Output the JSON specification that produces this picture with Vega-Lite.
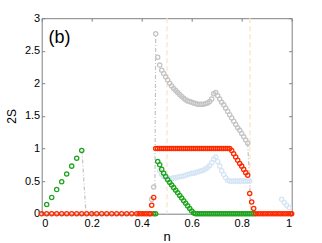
{
  "$schema": "https://vega.github.io/schema/vega-lite/v6.json",
  "width": 250,
  "height": 195.5,
  "autosize": "none",
  "padding": {"left": 41.7, "top": 18.2, "right": 30.3, "bottom": 29.3},
  "background": "white",
  "config": {
    "view": {"stroke": "#808080", "strokeWidth": 1},
    "axis": {
      "grid": false,
      "domain": false,
      "tickColor": "#808080",
      "tickSize": -3,
      "tickWidth": 1,
      "labelFont": "Liberation Sans",
      "labelFontSize": 11,
      "labelColor": "#000000",
      "titleFont": "Liberation Sans",
      "titleFontWeight": "normal",
      "titleColor": "#000000"
    }
  },
  "data": {
    "values": [
      {"n": 0.00, "r": 0},
      {"n": 0.02, "r": 0, "g": 0.14},
      {"n": 0.04, "r": 0, "g": 0.25},
      {"n": 0.06, "r": 0, "g": 0.37},
      {"n": 0.08, "r": 0, "g": 0.49},
      {"n": 0.10, "r": 0, "g": 0.61},
      {"n": 0.12, "r": 0, "g": 0.73},
      {"n": 0.14, "r": 0, "g": 0.85},
      {"n": 0.16, "r": 0, "g": 0.97},
      {"n": 0.18, "r": 0},
      {"n": 0.20, "r": 0},
      {"n": 0.22, "r": 0},
      {"n": 0.24, "r": 0},
      {"n": 0.26, "r": 0},
      {"n": 0.28, "r": 0},
      {"n": 0.30, "r": 0},
      {"n": 0.32, "r": 0},
      {"n": 0.34, "r": 0},
      {"n": 0.36, "r": 0},
      {"n": 0.38, "r": 0},
      {"n": 0.39, "r": 0},
      {"n": 0.40, "r": 0},
      {"n": 0.41, "r": 0},
      {"n": 0.42, "r": 0},
      {"n": 0.43, "r": 0},
      {"n": 0.436, "r": 0},
      {"n": 0.440, "r": 0.13, "k": 0.22},
      {"n": 0.448, "r": 0.25, "k": 0.41, "g": 0},
      {"n": 0.456, "r": 1, "k": 2.76, "g": 0},
      {"n": 0.464, "r": 1, "g": 0.80, "k": 2.40, "b": 0.80},
      {"n": 0.472, "r": 1, "g": 0.75, "k": 2.28, "b": 0.66},
      {"n": 0.480, "r": 1, "g": 0.68, "k": 2.20, "b": 0.60},
      {"n": 0.488, "r": 1, "g": 0.62, "k": 2.15, "b": 0.57},
      {"n": 0.496, "r": 1, "g": 0.57, "k": 2.10, "b": 0.55},
      {"n": 0.504, "r": 1, "g": 0.52, "k": 2.05, "b": 0.54},
      {"n": 0.512, "r": 1, "g": 0.48, "k": 2.00, "b": 0.54},
      {"n": 0.520, "r": 1, "g": 0.44, "k": 1.96, "b": 0.54},
      {"n": 0.528, "r": 1, "g": 0.40, "k": 1.92, "b": 0.55},
      {"n": 0.536, "r": 1, "g": 0.36, "k": 1.89, "b": 0.55},
      {"n": 0.544, "r": 1, "g": 0.32, "k": 1.86, "b": 0.56},
      {"n": 0.552, "r": 1, "g": 0.28, "k": 1.83, "b": 0.57},
      {"n": 0.560, "r": 1, "g": 0.24, "k": 1.80, "b": 0.57},
      {"n": 0.568, "r": 1, "g": 0.20, "k": 1.77, "b": 0.58},
      {"n": 0.576, "r": 1, "g": 0.16, "k": 1.75, "b": 0.59},
      {"n": 0.584, "r": 1, "g": 0.12, "k": 1.73, "b": 0.60},
      {"n": 0.592, "r": 1, "g": 0.08, "k": 1.72, "b": 0.61},
      {"n": 0.600, "r": 1, "g": 0.04, "k": 1.71, "b": 0.62},
      {"n": 0.608, "r": 1, "g": 0.01, "k": 1.70, "b": 0.62},
      {"n": 0.616, "r": 1, "g": 0, "k": 1.69, "b": 0.63},
      {"n": 0.624, "r": 1, "g": 0, "k": 1.68, "b": 0.64},
      {"n": 0.632, "r": 1, "g": 0, "k": 1.68, "b": 0.65},
      {"n": 0.640, "r": 1, "g": 0, "k": 1.68, "b": 0.66},
      {"n": 0.648, "r": 1, "g": 0, "k": 1.68, "b": 0.67},
      {"n": 0.656, "r": 1, "g": 0, "k": 1.69, "b": 0.69},
      {"n": 0.664, "r": 1, "g": 0, "k": 1.70, "b": 0.71},
      {"n": 0.672, "r": 1, "g": 0, "k": 1.72, "b": 0.74},
      {"n": 0.680, "r": 1, "g": 0, "k": 1.76, "b": 0.78},
      {"n": 0.688, "r": 1, "g": 0, "k": 1.84, "b": 0.84},
      {"n": 0.696, "r": 1, "g": 0, "k": 1.86, "b": 0.87},
      {"n": 0.704, "r": 1, "g": 0, "k": 1.81, "b": 0.80},
      {"n": 0.712, "r": 1, "g": 0, "k": 1.76, "b": 0.73},
      {"n": 0.720, "r": 1, "g": 0, "k": 1.71, "b": 0.66},
      {"n": 0.728, "r": 1, "g": 0, "k": 1.67, "b": 0.60},
      {"n": 0.736, "r": 1, "g": 0, "k": 1.62, "b": 0.55},
      {"n": 0.744, "r": 1, "g": 0, "k": 1.57, "b": 0.51},
      {"n": 0.752, "r": 1, "g": 0, "k": 1.52, "b": 0.50},
      {"n": 0.760, "r": 0.97, "g": 0, "k": 1.47, "b": 0.50},
      {"n": 0.768, "r": 0.92, "g": 0, "k": 1.42, "b": 0.50},
      {"n": 0.776, "r": 0.87, "g": 0, "k": 1.37, "b": 0.50},
      {"n": 0.784, "r": 0.82, "g": 0, "k": 1.32, "b": 0.50},
      {"n": 0.792, "r": 0.77, "g": 0, "k": 1.28, "b": 0.50},
      {"n": 0.800, "r": 0.73, "g": 0, "k": 1.23, "b": 0.50},
      {"n": 0.808, "r": 0.68, "g": 0, "k": 1.18, "b": 0.50},
      {"n": 0.816, "r": 0.63, "g": 0, "k": 1.13, "b": 0.50},
      {"n": 0.824, "r": 0.59, "g": 0, "k": 1.08, "b": 0.50},
      {"n": 0.832, "r": 0.31, "g": 0, "b": 0.50},
      {"n": 0.840, "r": 0.18, "g": 0},
      {"n": 0.848, "r": 0.08, "g": 0},
      {"n": 0.856, "r": 0},
      {"n": 0.866, "r": 0},
      {"n": 0.876, "r": 0},
      {"n": 0.886, "r": 0},
      {"n": 0.896, "r": 0},
      {"n": 0.906, "r": 0},
      {"n": 0.916, "r": 0},
      {"n": 0.926, "r": 0},
      {"n": 0.936, "r": 0},
      {"n": 0.946, "r": 0},
      {"n": 0.956, "r": 0},
      {"n": 0.96, "b": 0.22},
      {"n": 0.966, "r": 0},
      {"n": 0.97, "b": 0.17},
      {"n": 0.976, "r": 0},
      {"n": 0.98, "b": 0.13},
      {"n": 0.986, "r": 0},
      {"n": 0.99, "b": 0.09},
      {"n": 0.996, "r": 0},
      {"n": 1.0, "r": 0}
    ]
  },
  "layer": [
    {
      "data": {"values": [{"n": 0.501}, {"n": 0.833}]},
      "mark": {"type": "rule", "color": "#fde8cc", "strokeWidth": 1.5, "strokeDash": [5, 3]},
      "encoding": {
        "x": {"field": "n", "type": "quantitative", "scale": {"domain": [0, 1]}, "axis": null}
      }
    },
    {
      "data": {"values": [
        {"seg": 1, "n": 0.161, "y": 0.97}, {"seg": 1, "n": 0.177, "y": 0},
        {"seg": 2, "n": 0.456, "y": 2.76}, {"seg": 2, "n": 0.453, "y": 0.41},
        {"seg": 3, "n": 0.824, "y": 1.08}, {"seg": 3, "n": 0.837, "y": 0.05}
      ]},
      "mark": {"type": "line", "color": "#c4c4c4", "strokeWidth": 1.2, "strokeDash": [4, 2, 1, 2]},
      "encoding": {
        "x": {"field": "n", "type": "quantitative", "scale": {"domain": [0, 1]}, "axis": null},
        "y": {"field": "y", "type": "quantitative", "scale": {"domain": [0, 3]}, "axis": null},
        "detail": {"field": "seg"}
      }
    },
    {
      "transform": [{"filter": "isValid(datum.b)"}],
      "mark": {"type": "point", "shape": "circle", "filled": false, "size": 18, "strokeWidth": 1.3, "color": "#d6e5f5", "opacity": 1},
      "encoding": {
        "x": {"field": "n", "type": "quantitative", "scale": {"domain": [0, 1]},
          "axis": {"orient": "bottom", "values": [0, 0.2, 0.4, 0.6, 0.8, 1], "format": "~g", "labelPadding": 7, "title": "n", "titleFontSize": 13, "titlePadding": 2}},
        "y": {"field": "b", "type": "quantitative", "scale": {"domain": [0, 3]},
          "axis": {"orient": "left", "values": [0, 0.5, 1, 1.5, 2, 2.5, 3], "format": "~g", "labelPadding": 5, "title": "2S", "titleFontSize": 12, "titlePadding": 6}}
      }
    },
    {
      "transform": [{"filter": "isValid(datum.k)"}],
      "mark": {"type": "point", "shape": "circle", "filled": false, "size": 18, "strokeWidth": 1.3, "color": "#c4c4c4", "opacity": 1},
      "encoding": {
        "x": {"field": "n", "type": "quantitative", "scale": {"domain": [0, 1]},
          "axis": {"orient": "top", "values": [0, 0.2, 0.4, 0.6, 0.8, 1], "labels": false, "title": null}},
        "y": {"field": "k", "type": "quantitative", "scale": {"domain": [0, 3]},
          "axis": {"orient": "right", "values": [0, 0.5, 1, 1.5, 2, 2.5, 3], "labels": false, "title": null}}
      }
    },
    {
      "transform": [{"filter": "isValid(datum.g)"}],
      "mark": {"type": "point", "shape": "circle", "filled": false, "size": 18, "strokeWidth": 1.3, "color": "#1ea51e", "opacity": 1},
      "encoding": {
        "x": {"field": "n", "type": "quantitative", "scale": {"domain": [0, 1]}, "axis": null},
        "y": {"field": "g", "type": "quantitative", "scale": {"domain": [0, 3]}, "axis": null}
      }
    },
    {
      "transform": [{"filter": "isValid(datum.r)"}],
      "mark": {"type": "point", "shape": "circle", "filled": false, "size": 18, "strokeWidth": 1.3, "color": "#ff2a00", "opacity": 1},
      "encoding": {
        "x": {"field": "n", "type": "quantitative", "scale": {"domain": [0, 1]}, "axis": null},
        "y": {"field": "r", "type": "quantitative", "scale": {"domain": [0, 3]}, "axis": null}
      }
    },
    {
      "data": {"values": [{"n": 0.027, "y": 2.7, "label": "(b)"}]},
      "mark": {"type": "text", "align": "left", "baseline": "middle", "font": "Liberation Sans", "fontSize": 18, "color": "#000000"},
      "encoding": {
        "x": {"field": "n", "type": "quantitative", "scale": {"domain": [0, 1]}, "axis": null},
        "y": {"field": "y", "type": "quantitative", "scale": {"domain": [0, 3]}, "axis": null},
        "text": {"field": "label"}
      }
    }
  ],
  "resolve": {"axis": {"x": "independent", "y": "independent"}}
}
